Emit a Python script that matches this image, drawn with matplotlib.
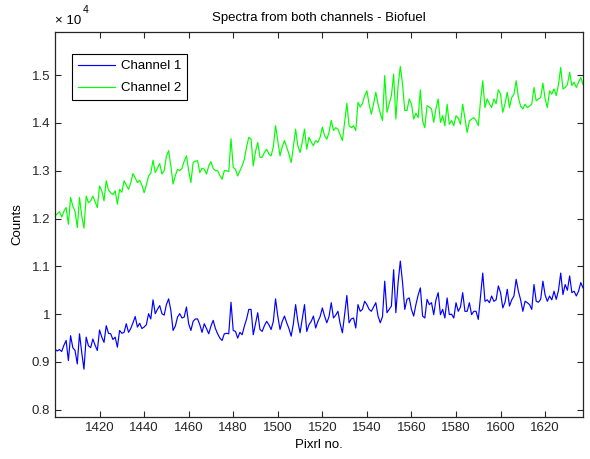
import numpy as np
from matplotlib import pyplot as plt
from matplotlib.ticker import FuncFormatter

plt.rcParams['font.family'] = ['Liberation Sans', 'DejaVu Sans']

# counts, pixel 1400 .. 1637
channel1 = [
    9270, 9230, 9260, 9220, 9350, 9450, 9030, 9550, 9300, 9240,
    8960, 9590, 9200, 8850, 9520, 9340, 9300, 9480, 9350, 9240,
    9670, 9520, 9410, 9760, 9600, 9590, 9470, 9520, 9310, 9660,
    9600, 9620, 9800, 9620, 9700, 9820, 9950, 9730, 9810, 9700,
    9730, 9780, 10010, 9900, 10300, 10010, 10100, 10180, 10010, 9980,
    10200, 10320, 10080, 9660, 9750, 9940, 10010, 9920, 9940, 10150,
    9800, 9660, 9850, 9900, 9900, 9780, 9620, 9800, 9700, 9590,
    9750, 9870, 9700, 9590, 9500, 9450, 9590, 9600, 9590, 10250,
    9660, 9640, 9500, 9620, 9570, 9750, 9900, 10100, 10100, 9570,
    9800, 10030, 9680, 9640, 9760, 9850, 9780, 9680, 9850, 10320,
    9960, 9680, 9850, 9960, 9820, 9700, 9540, 9800, 10200, 9850,
    9610, 9900, 10200, 9640, 9780, 9850, 9960, 9710, 9850, 9950,
    10130, 9960, 9820, 9950, 10240, 9920, 9980, 10060, 9800, 9610,
    9990, 10390, 9820, 9900, 9920, 9710, 10200, 10060, 10100, 10270,
    10200, 10100, 10060, 10150, 10240, 9960, 9820, 9950, 10690, 10030,
    10100, 10170, 10930, 10030, 10660, 11110, 10660, 10100, 10310, 10340,
    10100, 9960, 10200, 10400, 10550, 9960, 9920, 10310, 10200, 10240,
    9990, 10300, 10450, 9990, 10100, 9920, 10340, 9990, 10000, 9920,
    10240, 10060, 10150, 10450, 10060, 10060, 10240, 9990, 10060, 10060,
    9890, 10380, 10860, 10270, 10300, 10240, 10380, 10270, 10300, 10590,
    10450, 10130, 10250, 10520, 10170, 10300, 10380, 10730, 10480, 10300,
    10060, 10270, 10240, 10200, 10100, 10620, 10270, 10250, 10310, 10690,
    10400, 10270, 10380, 10300, 10480, 10310, 10500, 10860, 10410, 10620,
    10500, 10800, 10450, 10480, 10380, 10480, 10660, 10550,
]

channel2 = [
    12050, 12100, 12140, 12030, 12150, 12230, 11880, 12440, 12260, 12150,
    11810, 12440, 12050, 11800, 12470, 12330, 12370, 12470, 12350, 12230,
    12680, 12580, 12370, 12790, 12600, 12540, 12500, 12580, 12300, 12610,
    12550, 12790, 12700, 12610, 12750, 12940, 12850, 12750, 12800, 12700,
    12540, 12700, 12890, 12950, 13220, 12960, 13050, 13150, 12930, 13000,
    13300, 13420, 13100, 12720, 12900, 13030, 13000, 13050, 13200, 13310,
    13000, 12750, 13170, 13200, 13210, 12960, 13050, 13030, 12930, 13100,
    13190, 13050, 13000, 13000, 12900, 12820, 13000, 13000, 12980, 13670,
    13070, 13030, 12890, 13000, 13100, 13240, 13500, 13700, 13660, 13100,
    13400, 13590, 13280, 13280, 13380, 13450, 13350, 13310, 13500, 13940,
    13630, 13310, 13500, 13630, 13490, 13350, 13170, 13500, 13870, 13520,
    13380, 13600, 13870, 13450, 13700, 13600, 13520, 13630, 13590, 13700,
    13910, 13730, 13660, 13800, 14050, 13840, 13900, 13870, 13750, 13630,
    14010, 14410, 13940, 13900, 13940, 13840, 14430, 14330, 14400, 14570,
    14670, 14390, 14180, 14400, 14640, 14390, 14200, 14050, 14990, 14220,
    14400, 14570, 15020, 14080, 14780, 15180, 14810, 14260, 14260, 14500,
    14390, 14080, 14200, 14110, 14690, 14040, 13900, 14360, 14330, 14290,
    14010, 14300, 14500, 14010, 14150, 13940, 14390, 13970, 14050, 13940,
    14150, 14100, 13970, 14390, 14100, 13800, 14040, 14080, 14110, 14050,
    13940, 14460, 14880, 14320, 14500, 14400, 14320, 14500, 14400, 14690,
    14600, 14220, 14400, 14640, 14320, 14530, 14600, 14880, 14530, 14350,
    14290, 14390, 14320, 14350, 14390, 14740, 14460, 14500, 14530, 14830,
    14500, 14320, 14670, 14600, 14710, 14570, 14800, 15160, 14710, 14740,
    14800, 15060, 14780, 14850, 14740, 14850, 14950, 14800,
]

pixels = np.arange(1400, 1400 + len(channel1))
xticks = [1420, 1440, 1460, 1480, 1500, 1520, 1540, 1560, 1580, 1600, 1620]
yticks = [8000, 9000, 10000, 11000, 12000, 13000, 14000, 15000]

fig = plt.figure(figsize=(5.9, 4.59), dpi=100)
ax = fig.add_axes([55/590, 42/459, 528/590, 385/459])

ax.plot(pixels, channel1, color=(0, 0, 1), lw=0.85, label='Channel 1')
ax.plot(pixels, channel2, color=(0, 1, 0), lw=0.85, label='Channel 2')

ax.set_xlim(1400, 1637)
ax.set_ylim(7850, 15900)
ax.set_xticks(xticks)
ax.set_yticks(yticks)
ax.yaxis.set_major_formatter(FuncFormatter(lambda v, p: f'{v/1e4:g}'))
ax.tick_params(direction='in', length=4, top=True, right=True, labelsize=9.5, width=0.8, colors='#262626')
for s in ax.spines.values():
    s.set_color('#262626')
    s.set_linewidth(0.9)

ax.set_title('Spectra from both channels - Biofuel', fontsize=9.5, pad=8)
ax.set_xlabel('Pixrl no.', fontsize=9.5, labelpad=4)
ax.set_ylabel('Counts', fontsize=9.5, labelpad=6)
ax.text(0.0, 1.012, '× 10', transform=ax.transAxes, fontsize=9.5, ha='left', va='bottom')
ax.text(0.053, 1.045, '4', transform=ax.transAxes, fontsize=7.5, ha='left', va='bottom')

leg = ax.legend(loc='upper left', bbox_to_anchor=(17/528, 1 - 22/385), borderaxespad=0,
                fancybox=False, edgecolor='black', framealpha=1, fontsize=9.5,
                handlelength=2.8, handletextpad=0.45, labelspacing=0.75, borderpad=0.45)
leg.get_frame().set_linewidth(0.8)

plt.savefig('out.png', dpi=100)
